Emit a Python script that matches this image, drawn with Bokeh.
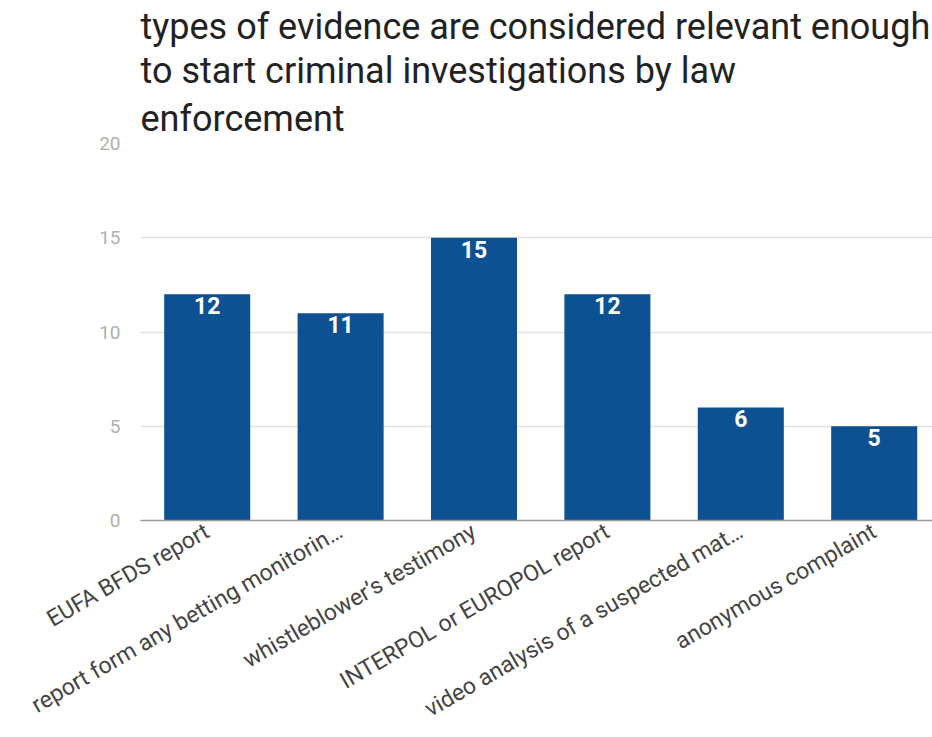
import math
from bokeh.plotting import figure
from bokeh.models import Range1d, FixedTicker, Title, ColumnDataSource
from bokeh.core.properties import value
from bokeh.embed import file_html
from bokeh.resources import INLINE

title_lines = [
    "types of evidence are considered relevant enough",
    "to start criminal investigations by law",
    "enforcement",
]
categories = [
    "EUFA BFDS report",
    "report form any betting monitorin\u2026",
    "whistleblower\u2019s testimony",
    "INTERPOL or EUROPOL report",
    "video analysis of a suspected mat\u2026",
    "anonymous complaint",
]
values = [12, 11, 15, 12, 6, 5]
y_ticks = [0, 5, 10, 15, 20]

xs = list(range(len(categories)))
src = ColumnDataSource(dict(x=xs, top=values, lab=[str(v) for v in values]))

FONT = "Roboto"

p = figure(width=932, height=737, output_backend="svg", toolbar_location=None,
           x_range=Range1d(-0.5, 5.437), y_range=Range1d(0, 20),
           min_border_left=140, min_border_right=0, min_border_top=143,
           min_border_bottom=217, background_fill_color="white",
           border_fill_color="white")
p.outline_line_color = None

for i, t in enumerate(reversed(title_lines)):
    p.add_layout(Title(text=t, align="left", text_font=FONT, text_font_size="36px",
                       text_font_style="normal", text_color="#222222",
                       standoff=8 if i == 0 else 0), "above")

p.vbar(x="x", top="top", bottom=0, width=0.645, source=src,
       fill_color="#0e5192", line_color=None)
p.text(x="x", y="top", text="lab", source=src, text_align="center",
       text_baseline="top", y_offset=3, text_color="white",
       text_font=value(FONT), text_font_style="bold", text_font_size="23px")

p.yaxis.ticker = FixedTicker(ticks=y_ticks)
p.yaxis.axis_line_color = None
p.yaxis.major_tick_line_color = None
p.yaxis.minor_tick_line_color = None
p.yaxis.major_tick_out = 0
p.yaxis.major_label_standoff = 20
p.yaxis.major_label_text_color = "#b0b0b0"
p.yaxis.major_label_text_font = FONT
p.yaxis.major_label_text_font_size = "19px"

p.xaxis.ticker = FixedTicker(ticks=xs)
p.xaxis.major_label_overrides = {i: c for i, c in zip(xs, categories)}
p.xaxis.major_label_orientation = math.pi / 6
p.xaxis.axis_line_color = "#999999"
p.xaxis.axis_line_width = 1.5
p.xaxis.major_tick_line_color = None
p.xaxis.minor_tick_line_color = None
p.xaxis.major_tick_out = 0
p.xaxis.major_label_standoff = 9
p.xaxis.major_label_text_color = "#444444"
p.xaxis.major_label_text_font = FONT
p.xaxis.major_label_text_font_size = "23px"

p.xgrid.grid_line_color = None
p.ygrid.ticker = FixedTicker(ticks=y_ticks)
p.ygrid.grid_line_color = "#e2e2e2"
p.ygrid.grid_line_width = 1.5

open("out.html", "w").write(file_html(p, INLINE))
